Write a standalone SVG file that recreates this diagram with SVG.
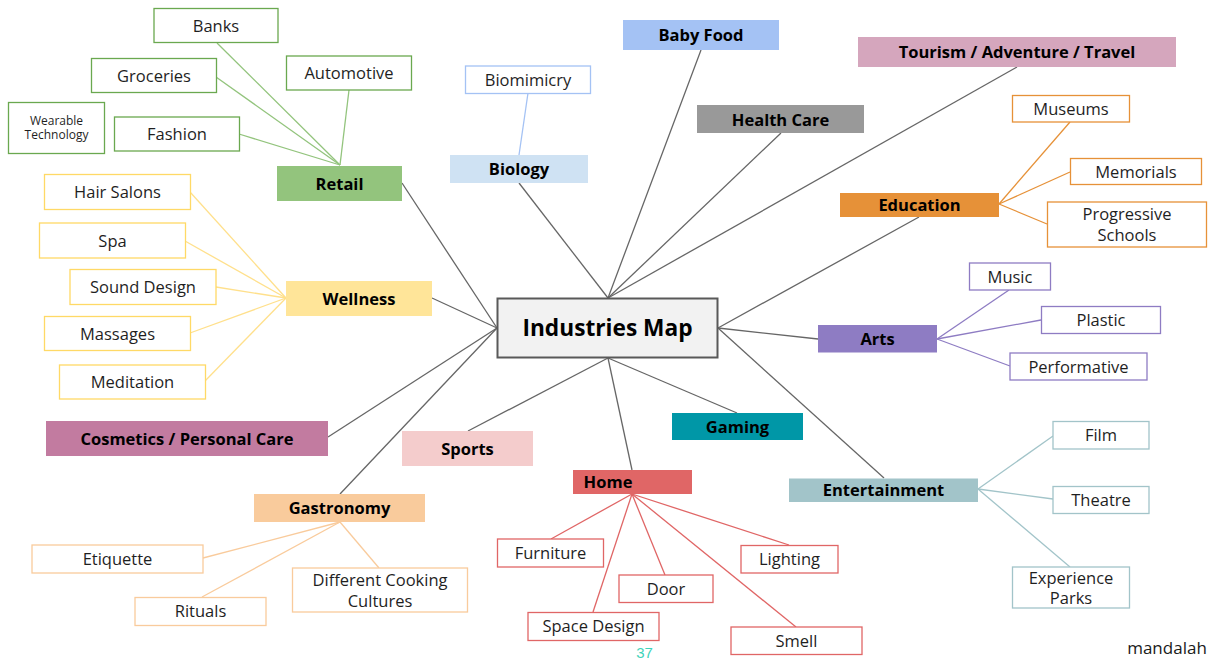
<svg xmlns="http://www.w3.org/2000/svg" width="1210" height="659" viewBox="0 0 1210 659">
  <style>
    text { font-family: "Open Sans", "Noto Sans", "DejaVu Sans", sans-serif; fill: #1f1f1f; text-anchor: middle; }
    .b { font-weight: bold; font-size: 16.5px; fill: #000; }
    .c { font-size: 16.5px; }
    .s { font-size: 12px; }
    .leaf { fill: #fff; stroke-width: 1.3; }
    .hub { stroke: none; }
    #connectors line { stroke-width: 1.3; }
    .main { stroke: #666; }
    .g-retail { stroke: #93c47d; }
    .g-well { stroke: #ffe08c; }
    .g-gast { stroke: #f9cb9c; }
    .g-home { stroke: #e06666; }
    .g-ent { stroke: #a2c4c9; }
    .g-arts { stroke: #8e7cc3; }
    .g-edu { stroke: #e69138; }
    .g-bio { stroke: #a4c2f4; }
  </style>

  <rect width="1210" height="659" fill="#fff"/>

  <!-- connectors -->
  <g id="connectors">
    <!-- main branches -->
    <line class="main" x1="402" y1="183" x2="497" y2="328"/>
    <line class="main" x1="432" y1="298" x2="497" y2="328"/>
    <line class="main" x1="328" y1="437" x2="497" y2="328"/>
    <line class="main" x1="340" y1="494" x2="497" y2="328"/>
    <line class="main" x1="519" y1="183" x2="608" y2="298"/>
    <line class="main" x1="701" y1="50" x2="608" y2="298"/>
    <line class="main" x1="781" y1="133" x2="608" y2="298"/>
    <line class="main" x1="1017" y1="67" x2="608" y2="298"/>
    <line class="main" x1="919" y1="217" x2="718" y2="328"/>
    <line class="main" x1="818" y1="339" x2="718" y2="328"/>
    <line class="main" x1="884" y1="478" x2="718" y2="328"/>
    <line class="main" x1="468" y1="431" x2="608" y2="358"/>
    <line class="main" x1="632" y1="470" x2="608" y2="358"/>
    <line class="main" x1="737" y1="413" x2="608" y2="358"/>
    <!-- retail -->
    <line class="g-retail" x1="217" y1="43" x2="340" y2="165"/>
    <line class="g-retail" x1="216" y1="77" x2="340" y2="165"/>
    <line class="g-retail" x1="239" y1="134" x2="340" y2="165"/>
    <line class="g-retail" x1="349" y1="90" x2="340" y2="165"/>
    <!-- wellness -->
    <line class="g-well" x1="190" y1="192" x2="286" y2="298"/>
    <line class="g-well" x1="185" y1="241" x2="286" y2="298"/>
    <line class="g-well" x1="216" y1="287" x2="286" y2="298"/>
    <line class="g-well" x1="190" y1="333" x2="286" y2="298"/>
    <line class="g-well" x1="205" y1="381" x2="286" y2="298"/>
    <!-- gastronomy -->
    <line class="g-gast" x1="203" y1="558" x2="340" y2="522"/>
    <line class="g-gast" x1="202" y1="597" x2="340" y2="522"/>
    <line class="g-gast" x1="379" y1="568" x2="340" y2="522"/>
    <!-- home -->
    <line class="g-home" x1="551" y1="539" x2="632" y2="494"/>
    <line class="g-home" x1="593" y1="612" x2="632" y2="494"/>
    <line class="g-home" x1="665" y1="575" x2="632" y2="494"/>
    <line class="g-home" x1="789" y1="545" x2="632" y2="494"/>
    <line class="g-home" x1="796" y1="627" x2="632" y2="494"/>
    <!-- entertainment -->
    <line class="g-ent" x1="1053" y1="436" x2="978" y2="489"/>
    <line class="g-ent" x1="1053" y1="499" x2="978" y2="489"/>
    <line class="g-ent" x1="1070" y1="567" x2="978" y2="489"/>
    <!-- arts -->
    <line class="g-arts" x1="1009" y1="290" x2="937" y2="339"/>
    <line class="g-arts" x1="1041" y1="320" x2="937" y2="339"/>
    <line class="g-arts" x1="1010" y1="366" x2="937" y2="339"/>
    <!-- education -->
    <line class="g-edu" x1="1070" y1="122" x2="999" y2="204"/>
    <line class="g-edu" x1="1070" y1="172" x2="999" y2="204"/>
    <line class="g-edu" x1="1047" y1="224" x2="999" y2="204"/>
    <!-- biology -->
    <line class="g-bio" x1="528" y1="93" x2="519" y2="155"/>
  </g>

  <!-- centre -->
  <g id="industries-map">
    <rect x="497.5" y="298.5" width="220" height="59" fill="#f2f2f2" stroke="#595959" stroke-width="2"/>
    <text x="607.5" y="336" font-size="22.7" font-weight="bold" style="fill:#000">Industries Map</text>
  </g>

  <!-- retail -->
  <g id="retail"><rect class="hub" x="277" y="166" width="125" height="35" fill="#93c47d"/><text class="b" x="339.5" y="189.5">Retail</text></g>
  <g id="banks"><rect class="leaf" x="154" y="8.5" width="124" height="34" stroke="#6aa84f"/><text class="c" x="216" y="31.5">Banks</text></g>
  <g id="groceries"><rect class="leaf" x="91.5" y="58.5" width="125" height="34" stroke="#6aa84f"/><text class="c" x="154" y="81.5">Groceries</text></g>
  <g id="automotive"><rect class="leaf" x="286.5" y="56" width="125" height="34" stroke="#6aa84f"/><text class="c" x="349" y="79">Automotive</text></g>
  <g id="fashion"><rect class="leaf" x="114.5" y="117" width="125" height="34" stroke="#6aa84f"/><text class="c" x="177" y="140">Fashion</text></g>
  <g id="wearable-technology"><rect class="leaf" x="8.5" y="102.5" width="96" height="51" stroke="#6aa84f"/><text class="s" x="56.5" y="124.5">Wearable<tspan x="56.5" dy="14.5">Technology</tspan></text></g>

  <!-- wellness -->
  <g id="wellness"><rect class="hub" x="286" y="281" width="146" height="35" fill="#ffe599"/><text class="b" x="359" y="304.5">Wellness</text></g>
  <g id="hair-salons"><rect class="leaf" x="44.5" y="174.5" width="146" height="35" stroke="#ffd966"/><text class="c" x="117.5" y="198">Hair Salons</text></g>
  <g id="spa"><rect class="leaf" x="39.5" y="223" width="146" height="35" stroke="#ffd966"/><text class="c" x="112.5" y="246.5">Spa</text></g>
  <g id="sound-design"><rect class="leaf" x="70" y="269.5" width="146" height="35" stroke="#ffd966"/><text class="c" x="143" y="293">Sound Design</text></g>
  <g id="massages"><rect class="leaf" x="44.5" y="316.5" width="146" height="34" stroke="#ffd966"/><text class="c" x="117.5" y="339.5">Massages</text></g>
  <g id="meditation"><rect class="leaf" x="59.5" y="365" width="146" height="34" stroke="#ffd966"/><text class="c" x="132.5" y="388">Meditation</text></g>

  <!-- cosmetics -->
  <g id="cosmetics"><rect class="hub" x="46" y="421" width="282" height="35" fill="#c27ba0"/><text class="b" x="187" y="444.5">Cosmetics / Personal Care</text></g>

  <!-- gastronomy -->
  <g id="gastronomy"><rect class="hub" x="254" y="494" width="171" height="28" fill="#f9cb9c"/><text class="b" x="339.5" y="514">Gastronomy</text></g>
  <g id="etiquette"><rect class="leaf" x="32" y="545" width="171" height="28" stroke="#f9cb9c"/><text class="c" x="117.5" y="564.5">Etiquette</text></g>
  <g id="rituals"><rect class="leaf" x="135" y="597.5" width="131" height="28" stroke="#f9cb9c"/><text class="c" x="200.5" y="617">Rituals</text></g>
  <g id="cooking-cultures"><rect class="leaf" x="292.5" y="568" width="175" height="44" stroke="#f9cb9c"/><text class="c" x="380" y="586">Different Cooking<tspan x="380" dy="21">Cultures</tspan></text></g>

  <!-- sports -->
  <g id="sports"><rect class="hub" x="402" y="431" width="131" height="35" fill="#f4cccc"/><text class="b" x="467.5" y="454.5">Sports</text></g>

  <!-- biology -->
  <g id="biology"><rect class="hub" x="450" y="155" width="138" height="28" fill="#cfe2f3"/><text class="b" x="519" y="175">Biology</text></g>
  <g id="biomimicry"><rect class="leaf" x="465.5" y="66" width="125" height="27.5" stroke="#a4c2f4"/><text class="c" x="528" y="85.5">Biomimicry</text></g>

  <!-- baby food -->
  <g id="baby-food"><rect class="hub" x="623" y="20" width="156" height="30" fill="#a4c2f4"/><text class="b" x="701" y="41">Baby Food</text></g>

  <!-- health care -->
  <g id="health-care"><rect class="hub" x="697" y="105" width="167" height="28" fill="#999999"/><text class="b" x="780.5" y="125.5">Health Care</text></g>

  <!-- tourism -->
  <g id="tourism"><rect class="hub" x="858" y="37" width="318" height="30" fill="#d5a6bd"/><text class="b" x="1017" y="58">Tourism / Adventure / Travel</text></g>

  <!-- education -->
  <g id="education"><rect class="hub" x="840" y="193" width="159" height="24" fill="#e69138"/><text class="b" x="919.5" y="211">Education</text></g>
  <g id="museums"><rect class="leaf" x="1012.5" y="95.5" width="117" height="26.5" stroke="#e69138"/><text class="c" x="1071" y="114.5">Museums</text></g>
  <g id="memorials"><rect class="leaf" x="1070.5" y="158.5" width="131" height="26" stroke="#e69138"/><text class="c" x="1136" y="177.5">Memorials</text></g>
  <g id="progressive-schools"><rect class="leaf" x="1047.5" y="202" width="159" height="45" stroke="#e69138"/><text class="c" x="1127" y="220">Progressive<tspan x="1127" dy="21">Schools</tspan></text></g>

  <!-- arts -->
  <g id="arts"><rect class="hub" x="818" y="325" width="119" height="27.5" fill="#8e7cc3"/><text class="b" x="877.5" y="345">Arts</text></g>
  <g id="music"><rect class="leaf" x="969.5" y="263" width="81" height="27" stroke="#8e7cc3"/><text class="c" x="1010" y="282.5">Music</text></g>
  <g id="plastic"><rect class="leaf" x="1041.5" y="306.5" width="119" height="27" stroke="#8e7cc3"/><text class="c" x="1101" y="326">Plastic</text></g>
  <g id="performative"><rect class="leaf" x="1010" y="353" width="137" height="27" stroke="#8e7cc3"/><text class="c" x="1078.5" y="372.5">Performative</text></g>

  <!-- gaming -->
  <g id="gaming"><rect class="hub" x="672" y="413" width="131" height="27" fill="#0097a7"/><text class="b" x="737.5" y="432.5">Gaming</text></g>

  <!-- entertainment -->
  <g id="entertainment"><rect class="hub" x="789" y="478.5" width="189" height="23.5" fill="#a2c4c9"/><text class="b" x="883.5" y="496">Entertainment</text></g>
  <g id="film"><rect class="leaf" x="1053" y="421.5" width="96" height="27.5" stroke="#a2c4c9"/><text class="c" x="1101" y="441">Film</text></g>
  <g id="theatre"><rect class="leaf" x="1053" y="486.5" width="96" height="27" stroke="#a2c4c9"/><text class="c" x="1101" y="506">Theatre</text></g>
  <g id="experience-parks"><rect class="leaf" x="1012.5" y="567" width="117" height="41" stroke="#a2c4c9"/><text class="c" x="1071" y="584">Experience<tspan x="1071" dy="20">Parks</tspan></text></g>

  <!-- home -->
  <g id="home"><rect class="hub" x="573" y="470" width="119" height="24" fill="#e06666"/><text class="b" x="608" y="488">Home</text></g>
  <g id="furniture"><rect class="leaf" x="497.5" y="539" width="106" height="28" stroke="#e06666"/><text class="c" x="550.5" y="558.5">Furniture</text></g>
  <g id="space-design"><rect class="leaf" x="528" y="612.5" width="131" height="28" stroke="#e06666"/><text class="c" x="593.5" y="632">Space Design</text></g>
  <g id="door"><rect class="leaf" x="619" y="575" width="94" height="27.5" stroke="#e06666"/><text class="c" x="666" y="594.5">Door</text></g>
  <g id="lighting"><rect class="leaf" x="741" y="545.5" width="97" height="27.5" stroke="#e06666"/><text class="c" x="789.5" y="565">Lighting</text></g>
  <g id="smell"><rect class="leaf" x="731" y="627" width="131" height="27.5" stroke="#e06666"/><text class="c" x="796.5" y="646.5">Smell</text></g>

  <!-- page number and brand -->
  <text x="644.5" y="657.5" font-size="15" style="font-family:'Liberation Sans',Arial,sans-serif;fill:#3fd3ba">37</text>
  <text x="1167" y="654" font-size="17" style="fill:#1a1a1a">mandalah</text>
</svg>
